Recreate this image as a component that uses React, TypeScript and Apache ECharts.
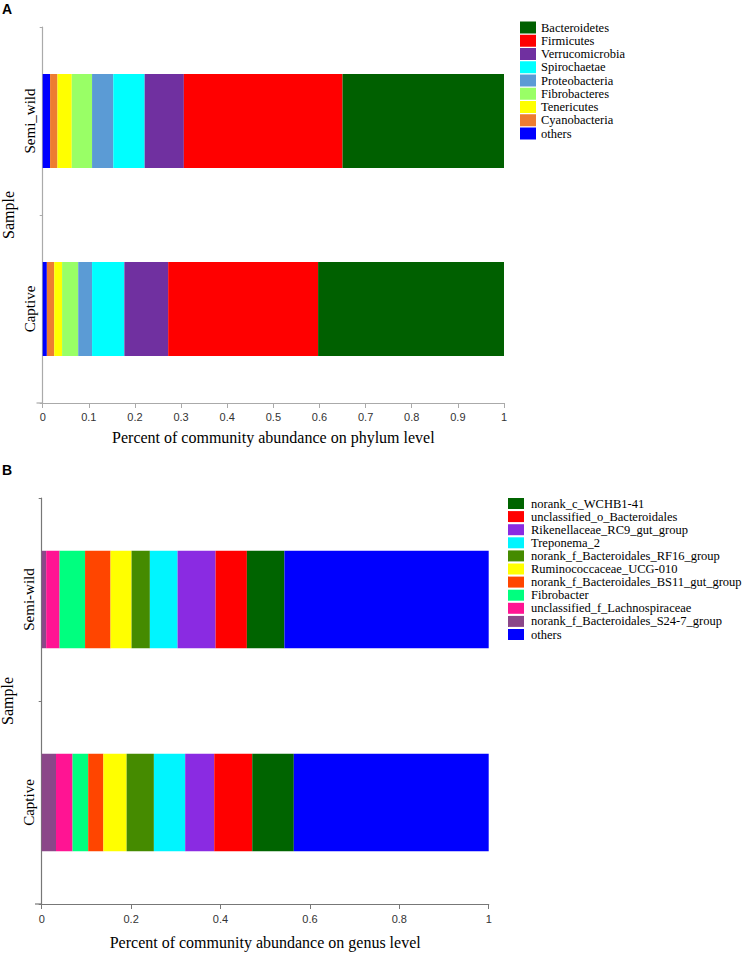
import React, { useEffect, useRef } from "react";
import * as echarts from "echarts";

// ---- Panel A: phylum level ----
const phylumSamples = ["Captive", "Semi_wild"];
const phylumNames = [
  "others",
  "Cyanobacteria",
  "Tenericutes",
  "Fibrobacteres",
  "Proteobacteria",
  "Spirochaetae",
  "Verrucomicrobia",
  "Firmicutes",
  "Bacteroidetes",
];
const phylumCaptive = [0.009, 0.016, 0.017, 0.035, 0.03, 0.07, 0.095, 0.325, 0.403];
const phylumSemiWild = [0.016, 0.016, 0.031, 0.044, 0.046, 0.068, 0.085, 0.344, 0.35];
const phylumColors = [
  "#0000FF",
  "#ED7D31",
  "#FFFF00",
  "#99FF66",
  "#5B9BD5",
  "#00FFFF",
  "#7030A0",
  "#FF0000",
  "#006000",
];
const phylumLegendOrder = [
  "Bacteroidetes",
  "Firmicutes",
  "Verrucomicrobia",
  "Spirochaetae",
  "Proteobacteria",
  "Fibrobacteres",
  "Tenericutes",
  "Cyanobacteria",
  "others",
];

// ---- Panel B: genus level ----
const genusSamples = ["Captive", "Semi-wild"];
const genusNames = [
  "norank_f_Bacteroidales_S24-7_group",
  "unclassified_f_Lachnospiraceae",
  "Fibrobacter",
  "norank_f_Bacteroidales_BS11_gut_group",
  "Ruminococcaceae_UCG-010",
  "norank_f_Bacteroidales_RF16_group",
  "Treponema_2",
  "Rikenellaceae_RC9_gut_group",
  "unclassified_o_Bacteroidales",
  "norank_c_WCHB1-41",
  "others",
];
const genusCaptive = [0.032, 0.037, 0.035, 0.034, 0.052, 0.061, 0.07, 0.065, 0.085, 0.093, 0.436];
const genusSemiWild = [0.01, 0.03, 0.057, 0.057, 0.047, 0.041, 0.062, 0.085, 0.07, 0.084, 0.457];
const genusColors = [
  "#8B4789",
  "#FF1493",
  "#00FF7F",
  "#FF4500",
  "#FFFF00",
  "#458B00",
  "#00F5FF",
  "#8A2BE2",
  "#FF0000",
  "#006400",
  "#0000FF",
];
const genusLegendOrder = [
  "norank_c_WCHB1-41",
  "unclassified_o_Bacteroidales",
  "Rikenellaceae_RC9_gut_group",
  "Treponema_2",
  "norank_f_Bacteroidales_RF16_group",
  "Ruminococcaceae_UCG-010",
  "norank_f_Bacteroidales_BS11_gut_group",
  "Fibrobacter",
  "unclassified_f_Lachnospiraceae",
  "norank_f_Bacteroidales_S24-7_group",
  "others",
];

const SERIF = "'Liberation Serif', 'Times New Roman', serif";
const SANS = "'Liberation Sans', Arial, sans-serif";

export default function App() {
  const ref = useRef<HTMLDivElement>(null);

  useEffect(() => {
    if (!ref.current) return;
    const chart = echarts.init(ref.current, undefined, { renderer: "svg" });

    const gridA = { left: 42.7, top: 27, width: 461.3, height: 376 };
    const gridB = { left: 41.7, top: 498, width: 447, height: 406 };

    const xAxisCommon = (color: string, interval: number, name: string, nameGap: number, labelMargin: number, gridIndex: number) => ({
      type: "value",
      gridIndex,
      min: 0,
      max: 1,
      interval,
      name,
      nameLocation: "middle",
      nameGap,
      nameMoveOverlap: false,
      nameTextStyle: { fontFamily: SERIF, fontSize: 16, color: "#000" },
      axisLine: { show: true, lineStyle: { color, width: 1.2 } },
      axisTick: { show: true, length: 5, lineStyle: { color, width: 1 } },
      axisLabel: { fontFamily: SANS, fontSize: 11, color: "#333", margin: labelMargin },
      splitLine: { show: false },
    });

    const yAxisCommon = (color: string, data: string[], gridIndex: number) => ({
      type: "category",
      gridIndex,
      data,
      name: "Sample",
      nameLocation: "middle",
      nameGap: 26,
      nameMoveOverlap: false,
      nameTextStyle: { fontFamily: SERIF, fontSize: 16, color: "#000" },
      axisLine: { show: true, lineStyle: { color, width: 1.2 } },
      axisTick: { show: true, length: 3, lineStyle: { color, width: 1 } },
      axisLabel: { rotate: 90, fontFamily: SERIF, fontSize: 15, color: "#000", margin: 5 },
      splitLine: { show: false },
    });

    const seriesA = phylumNames.map((name, i) => ({
      name,
      type: "bar",
      stack: "phylum",
      xAxisIndex: 0,
      yAxisIndex: 0,
      barWidth: "50%",
      itemStyle: { color: phylumColors[i] },
      data: [phylumCaptive[i], phylumSemiWild[i]],
    }));

    const seriesB = genusNames.map((name, i) => ({
      name,
      type: "bar",
      stack: "genus",
      xAxisIndex: 1,
      yAxisIndex: 1,
      barWidth: "48%",
      itemStyle: { color: genusColors[i] },
      data: [genusCaptive[i], genusSemiWild[i]],
    }));

    const legendCommon = {
      orient: "vertical",
      itemWidth: 16,
      itemGap: 0.25,
      icon: "rect",
      selectedMode: false,
      padding: 0,
      textStyle: { fontFamily: SERIF, fontSize: 12.5, color: "#000", lineHeight: 13 },
    };

    chart.setOption({
      animation: false,
      backgroundColor: "#fff",
      title: [
        { text: "A", left: 2, top: 2, padding: 0, textStyle: { fontFamily: SANS, fontSize: 14, fontWeight: "bold", color: "#000" } },
        { text: "B", left: 2, top: 463, padding: 0, textStyle: { fontFamily: SANS, fontSize: 14, fontWeight: "bold", color: "#000" } },
      ],
      grid: [
        { ...gridA, containLabel: false, outerBoundsMode: "none" },
        { ...gridB, containLabel: false, outerBoundsMode: "none" },
      ],
      xAxis: [
        xAxisCommon("#aaaaaa", 0.1, "Percent of community abundance on phylum level", 26, 8, 0),
        xAxisCommon("#777777", 0.2, "Percent of community abundance on genus level", 30, 9, 1),
      ],
      yAxis: [yAxisCommon("#aaaaaa", phylumSamples, 0), yAxisCommon("#777777", genusSamples, 1)],
      legend: [
        {
          ...legendCommon,
          left: 520,
          top: 21,
          itemHeight: 12,
          data: phylumLegendOrder,
          textStyle: { ...legendCommon.textStyle, padding: [0, 0, 0, 0] },
        },
        {
          ...legendCommon,
          left: 508,
          top: 497,
          itemHeight: 11,
          itemGap: 0.1,
          data: genusLegendOrder,
          textStyle: { ...legendCommon.textStyle, fontSize: 12.5, padding: [0, 0, 0, 2] },
        },
      ],
      graphic: [
        { type: "line", shape: { x1: 36.5, y1: 403, x2: 42.7, y2: 403 }, style: { stroke: "#aaaaaa", lineWidth: 1.2 } },
        { type: "line", shape: { x1: 35, y1: 904, x2: 41.7, y2: 904 }, style: { stroke: "#777777", lineWidth: 1.2 } },
      ],
      series: [...seriesA, ...seriesB],
    });

    return () => chart.dispose();
  }, []);

  return (
    <div
      ref={ref}
      style={{ position: "absolute", left: 0, top: 0, width: 746, height: 954, background: "#fff" }}
    />
  );
}
